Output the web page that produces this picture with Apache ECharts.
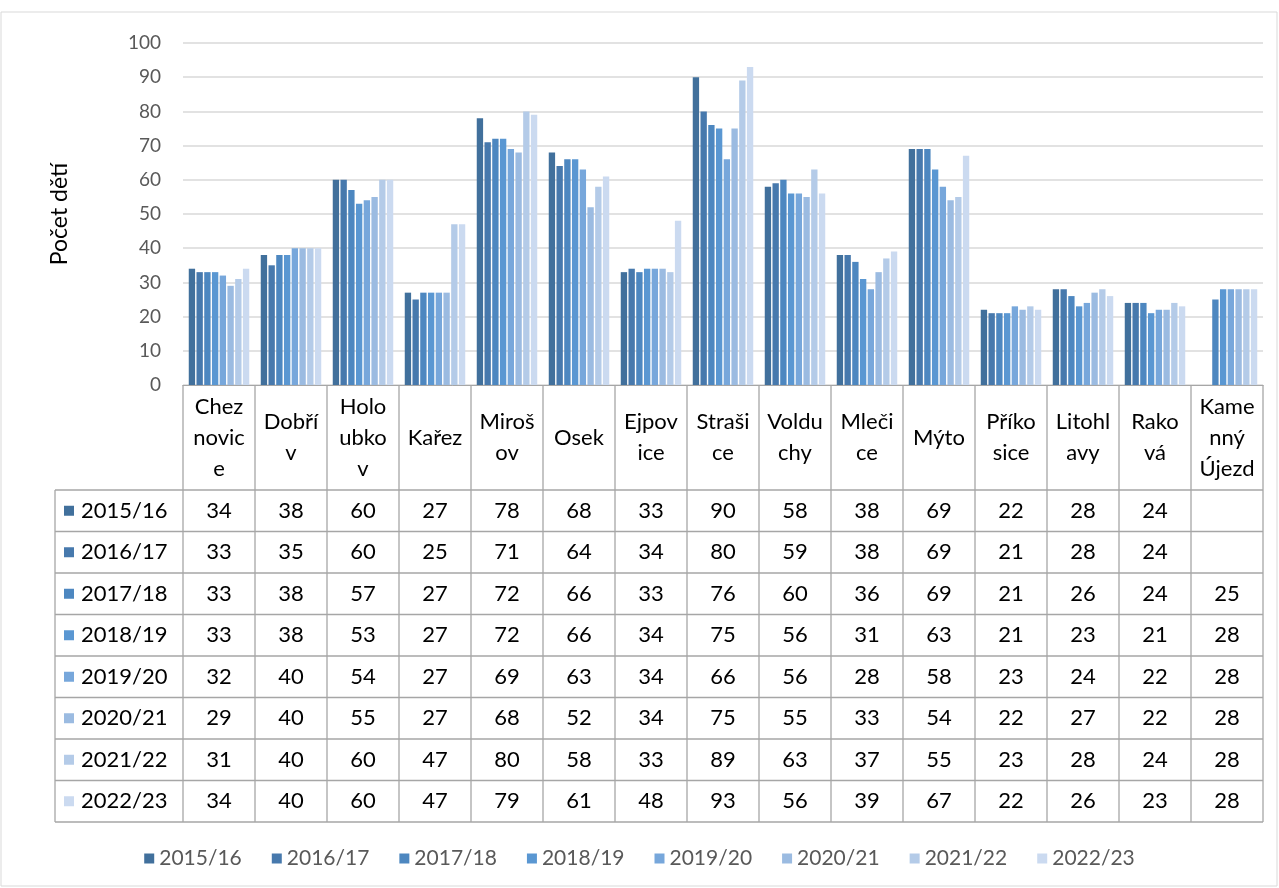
<!DOCTYPE html>
<html><head><meta charset="utf-8">
<script src="https://cdn.jsdelivr.net/npm/echarts@6/dist/echarts.min.js"></script>
<style>html,body{margin:0;padding:0;background:#fff}#c{width:1279px;height:888px}</style>
</head><body><div id="c"></div>
<script>
const categories = ["Chez\nnovic\ne","Dobří\nv","Holo\nubko\nv","Kařez","Miroš\nov","Osek","Ejpov\nice","Straši\nce","Voldu\nchy","Mleči\nce","Mýto","Příko\nsice","Litohl\navy","Rako\nvá","Kame\nnný\nÚjezd"];
const years = ["2015/16","2016/17","2017/18","2018/19","2019/20","2020/21","2021/22","2022/23"];
const v2015 = [34,38,60,27,78,68,33,90,58,38,69,22,28,24,null];
const v2016 = [33,35,60,25,71,64,34,80,59,38,69,21,28,24,null];
const v2017 = [33,38,57,27,72,66,33,76,60,36,69,21,26,24,25];
const v2018 = [33,38,53,27,72,66,34,75,56,31,63,21,23,21,28];
const v2019 = [32,40,54,27,69,63,34,66,56,28,58,23,24,22,28];
const v2020 = [29,40,55,27,68,52,34,75,55,33,54,22,27,22,28];
const v2021 = [31,40,60,47,80,58,33,89,63,37,55,23,28,24,28];
const v2022 = [34,40,60,47,79,61,48,93,56,39,67,22,26,23,28];
const seriesValues = [v2015,v2016,v2017,v2018,v2019,v2020,v2021,v2022];
const colors = ["#41709c","#4779ad","#4d87c0","#5a97d2","#77a7db","#9bbbe1","#b4cbe8","#cbdaf0"];
const yTicks = [0,10,20,30,40,50,60,70,80,90,100];

const FONT = "Lato";
const chart = echarts.init(document.getElementById('c'));
const gridL = 183, gridR = 16, gridT = 43, gridB = 503;
const tableLeft = 55, headerBottom = 490, rowH = 41.5;

chart.setOption({
  animation:false,
  color: colors,
  textStyle:{fontFamily:FONT},
  grid:{left:gridL,right:gridR,top:gridT,bottom:gridB},
  legend:{bottom:14,left:'center',itemWidth:10,itemHeight:10,itemGap:30,
    icon:'rect',textStyle:{color:'#595959',fontSize:21,fontFamily:FONT},data:years},
  xAxis:{type:'category',data:categories,
    axisLine:{lineStyle:{color:'#a6a6a6',width:1}},
    axisTick:{show:false},axisLabel:{show:false}},
  yAxis:{type:'value',min:0,max:100,interval:10,
    name:'Počet dětí',nameLocation:'middle',nameGap:112,nameRotate:90,
    nameTextStyle:{color:'#000',fontSize:23,fontFamily:FONT},
    axisLabel:{color:'#595959',fontSize:19,margin:22,formatter:v=>yTicks.includes(v)?String(v):''},
    axisLine:{show:false},axisTick:{show:false},
    splitLine:{lineStyle:{color:'#d9d9d9',width:1.5}}},
  series: years.map((y,i)=>({name:y,type:'bar',data:seriesValues[i],
    barGap:'22%',barCategoryGap:'16%',itemStyle:{color:colors[i]}}))
});

// build data table from the arrays using axis scale positions
const n = categories.length;
const x0 = chart.convertToPixel({xAxisIndex:0},0);
const x1 = chart.convertToPixel({xAxisIndex:0},1);
const cw = x1 - x0;
const yZero = chart.convertToPixel({yAxisIndex:0},0);
const tableBottom = headerBottom + rowH*years.length;
const gfx = [];
const lc = '#a6a6a6';
const TF = '22px '+FONT;
gfx.push({type:'rect',shape:{x:1,y:12,width:1276,height:874},style:{fill:'none',stroke:'#d9d9d9',lineWidth:1}});
for(let k=0;k<=n;k++){
  const x = x0 - cw/2 + k*cw;
  gfx.push({type:'line',shape:{x1:x,y1:yZero,x2:x,y2:tableBottom},style:{stroke:lc,lineWidth:1.3}});
}
gfx.push({type:'line',shape:{x1:tableLeft,y1:headerBottom,x2:tableLeft,y2:tableBottom},style:{stroke:lc,lineWidth:1.3}});
for(let r=0;r<=years.length;r++){
  const y = headerBottom + r*rowH;
  gfx.push({type:'line',shape:{x1:tableLeft,y1:y,x2:x0-cw/2+n*cw,y2:y},style:{stroke:lc,lineWidth:1.3}});
}
for(let k=0;k<n;k++){
  const cx = x0 + k*cw;
  gfx.push({type:'text',x:cx,y:(yZero+headerBottom)/2,style:{text:categories[k],fill:'#000',
    font:TF,align:'center',verticalAlign:'middle',lineHeight:31}});
}
years.forEach((y,r)=>{
  const cy = headerBottom + r*rowH + rowH/2;
  gfx.push({type:'rect',shape:{x:64,y:cy-5,width:10,height:10},style:{fill:colors[r]}});
  gfx.push({type:'text',x:81,y:cy,style:{text:y,fill:'#000',font:TF,align:'left',verticalAlign:'middle'}});
  seriesValues[r].forEach((v,k)=>{
    if(v===null) return;
    gfx.push({type:'text',x:x0+k*cw,y:cy,style:{text:String(v),fill:'#000',font:TF,align:'center',verticalAlign:'middle'}});
  });
});
chart.setOption({graphic:{elements:gfx}});
</script></body></html>
